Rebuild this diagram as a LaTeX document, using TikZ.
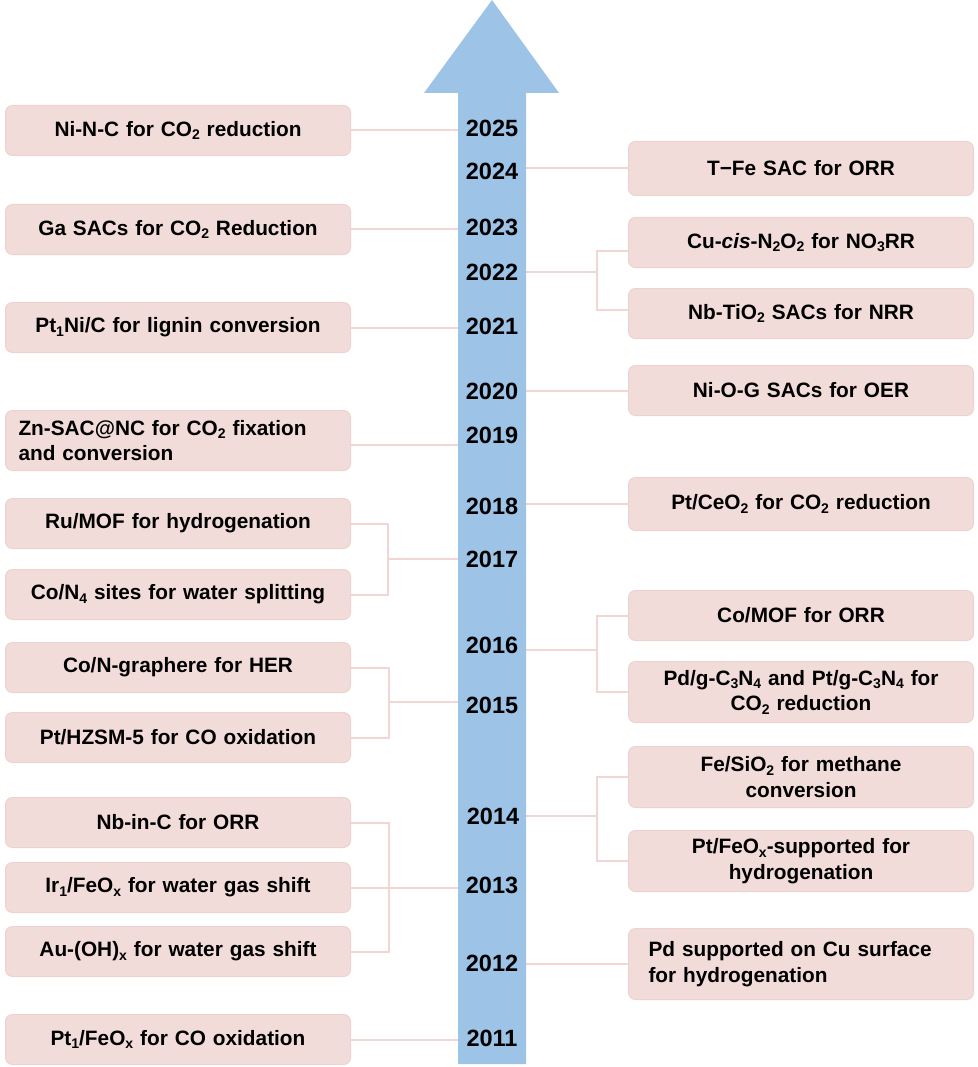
\documentclass[tikz,border=0pt]{standalone}
\usepackage{fontspec}
\setmainfont{Liberation Sans}
\newcommand\mysub[1]{\raisebox{-0.32ex}{\fontsize{14}{14}\selectfont #1}}
\definecolor{arrowblue}{HTML}{9DC3E6}
\definecolor{boxfill}{HTML}{F2DCDA}
\definecolor{boxedge}{HTML}{EDD3D0}
\definecolor{linkpink}{HTML}{F1D6D3}
\tikzset{
  evt/.style={anchor=north west, rounded corners=7pt, fill=boxfill, draw=boxedge, line width=1pt,
    text width=319pt, inner xsep=13pt, inner ysep=0pt, align=center,
    font=\fontsize{20.8}{25.5}\selectfont\bfseries},
  evtl/.style={evt, align=left},
  yr/.style={font=\fontsize{23.5}{23.5}\selectfont\bfseries, inner sep=0pt},
  link/.style={draw=linkpink, line width=2pt}
}
\begin{document}
\begin{tikzpicture}[x=1pt,y=-1pt]
\useasboundingbox (0,0) rectangle (977,1067);
% shaft edges
\coordinate (shaftL) at (458,0);
\coordinate (shaftR) at (526,0);
% left boxes
\node[evt, minimum height=50pt] (L1) at (5,105) {Ni-N-C for CO\mysub{2} reduction};
\node[evt, minimum height=50pt] (L2) at (5,204) {Ga SACs for CO\mysub{2} Reduction};
\node[evt, minimum height=50pt] (L3) at (5,302) {Pt\mysub{1}Ni/C for lignin conversion};
\node[evtl, minimum height=60pt] (L4) at (5,410) {Zn-SAC@NC for CO\mysub{2} fixation\\and conversion};
\node[evt, minimum height=50pt] (L5) at (5,498) {Ru/MOF for hydrogenation};
\node[evt, minimum height=50pt] (L6) at (5,569) {Co/N\mysub{4} sites for water splitting};
\node[evt, minimum height=50pt] (L7) at (5,642) {Co/N-graphere for HER};
\node[evt, minimum height=50pt] (L8) at (5,712) {Pt/HZSM-5 for CO oxidation};
\node[evt, minimum height=50pt] (L9) at (5,797) {Nb-in-C for ORR};
\node[evt, minimum height=50pt] (L10) at (5,862) {Ir\mysub{1}/FeO\mysub{x} for water gas shift};
\node[evt, minimum height=50pt] (L11) at (5,926) {Au-(OH)\mysub{x} for water gas shift};
\node[evt, minimum height=50pt] (L12) at (5,1014) {Pt\mysub{1}/FeO\mysub{x} for CO oxidation};
% right boxes
\node[evt, minimum height=54pt] (R1) at (628,141) {T\textminus Fe SAC for ORR};
\node[evt, minimum height=50pt] (R2) at (628,217) {Cu-\textit{cis}-N\mysub{2}O\mysub{2} for NO\mysub{3}RR};
\node[evt, minimum height=50pt] (R3) at (628,288) {Nb-TiO\mysub{2} SACs for NRR};
\node[evt, minimum height=50pt] (R4) at (628,365) {Ni-O-G SACs for OER};
\node[evt, minimum height=53pt] (R5) at (628,477) {Pt/CeO\mysub{2} for CO\mysub{2} reduction};
\node[evt, minimum height=50pt] (R6) at (628,590) {Co/MOF for ORR};
\node[evt, minimum height=61pt] (R7) at (628,661) {Pd/g-C\mysub{3}N\mysub{4} and Pt/g-C\mysub{3}N\mysub{4} for\\CO\mysub{2} reduction};
\node[evt, minimum height=61pt] (R8) at (628,746) {Fe/SiO\mysub{2} for methane\\conversion};
\node[evt, minimum height=61pt] (R9) at (628,830) {Pt/FeO\mysub{x}-supported for\\hydrogenation};
\node[evtl, inner xsep=20pt, text width=305pt, minimum height=71pt] (R10) at (628,928) {Pd supported on Cu surface\\for hydrogenation};
% bracket joints
\coordinate (b17) at (388,559);
\coordinate (b15) at (389,702);
\coordinate (b13) at (389,886);
\coordinate (b22) at (597,272);
\coordinate (b16) at (597,650);
\coordinate (b14) at (597,816);
% connectors
\draw[link] (L1.east) -- (L1.east -| shaftL);
\draw[link] (L2.east) -- (L2.east -| shaftL);
\draw[link] (L3.east) -- (L3.east -| shaftL);
\draw[link] ([yshift=-4pt]L4.east) -- ([yshift=-4pt]L4.east -| shaftL);
\draw[link] (L5.east) -| (b17) |- (L6.east);
\draw[link] (b17) -- (b17 -| shaftL);
\draw[link] (L7.east) -| (b15) |- (L8.east);
\draw[link] (b15) -- (b15 -| shaftL);
\draw[link] (L9.east) -| (b13) |- (L11.east);
\draw[link] (L10.east) -- (L10.east -| shaftL);
\draw[link] (L12.east) -- (L12.east -| shaftL);
\draw[link] (R1.west) -- (R1.west -| shaftR);
\draw[link] ([yshift=-8pt]R2.west) -| (b22) |- ([yshift=4pt]R3.west);
\draw[link] (b22) -- (b22 -| shaftR);
\draw[link] (R4.west) -- (R4.west -| shaftR);
\draw[link] (R5.west) -- (R5.west -| shaftR);
\draw[link] (R6.west) -| (b16) |- (R7.west);
\draw[link] (b16) -- (b16 -| shaftR);
\draw[link] (R8.west) -| (b14) |- (R9.west);
\draw[link] (b14) -- (b14 -| shaftR);
\draw[link] (R10.west) -- (R10.west -| shaftR);
% arrow
\fill[arrowblue] (458,1064) -- (458,93) -- (424,93) -- (492,0) -- (559,93) -- (526,93) -- (526,1064) -- cycle;
% years
\node[yr] (y2025) at (492,128) {2025};
\node[yr] (y2024) at (492,171) {2024};
\node[yr] (y2023) at (492,227) {2023};
\node[yr] (y2022) at (492,272) {2022};
\node[yr] (y2021) at (492,326) {2021};
\node[yr] (y2020) at (492,391) {2020};
\node[yr] (y2019) at (492,435) {2019};
\node[yr] (y2018) at (492,506) {2018};
\node[yr] (y2017) at (492,559) {2017};
\node[yr] (y2016) at (492,645) {2016};
\node[yr] (y2015) at (492,705) {2015};
\node[yr] (y2014) at (493,816) {2014};
\node[yr] (y2013) at (492,885) {2013};
\node[yr] (y2012) at (492,963) {2012};
\node[yr] (y2011) at (492,1038) {2011};
\end{tikzpicture}
\end{document}
